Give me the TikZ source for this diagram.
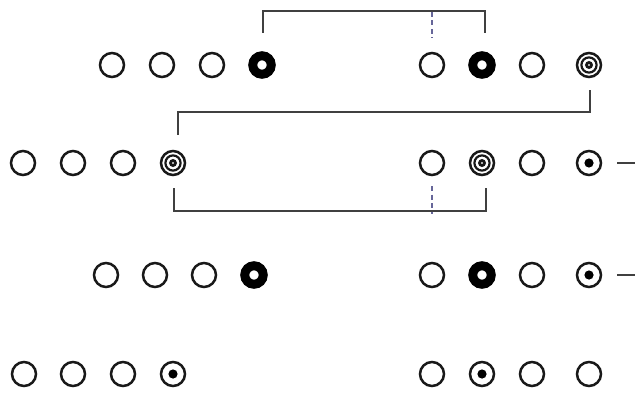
\documentclass[tikz,border=0pt]{standalone}
\usetikzlibrary{calc}
\begin{document}
\begin{tikzpicture}[x=1pt,y=1pt,
  ec/.style={circle,draw=black!90,line width=2.5pt,minimum size=24pt,inner sep=0pt},
  thk/.style={circle,draw=black,line width=9pt,minimum size=18.5pt,inner sep=0pt},
  tri/.style={ec,path picture={
      \draw[black!90,line width=2.2pt] (path picture bounding box.center) circle (7.6pt);
      \draw[black!90,line width=2.8pt] (path picture bounding box.center) circle (2.5pt);}},
  dotc/.style={ec,path picture={
      \fill[black] (path picture bounding box.center) circle (4.6pt);}},
  br/.style={draw=black!75,line width=1.9pt},
  dsh/.style={draw=gray!80!blue,line width=1.1pt,dash pattern=on 5pt off 3.5pt}]
\useasboundingbox (0,0) rectangle (635,392);
% row 1
\node[ec]  (r1l1) at (112,327) {};
\node[ec]  (r1l2) at (162,327) {};
\node[ec]  (r1l3) at (212,327) {};
\node[thk] (r1l4) at (262,327) {};
\node[ec]  (r1r1) at (432,327) {};
\node[thk] (r1r2) at (482,327) {};
\node[ec]  (r1r3) at (532,327) {};
\node[tri] (r1r4) at (589,327) {};
% row 2
\node[ec]  (r2l1) at (23,229) {};
\node[ec]  (r2l2) at (73,229) {};
\node[ec]  (r2l3) at (123,229) {};
\node[tri] (r2l4) at (173,229) {};
\node[ec]  (r2r1) at (432,229) {};
\node[tri] (r2r2) at (482,229) {};
\node[ec]  (r2r3) at (532,229) {};
\node[dotc] (r2r4) at (589,229) {};
% row 3
\node[ec]  (r3l1) at (106,117) {};
\node[ec]  (r3l2) at (155,117) {};
\node[ec]  (r3l3) at (204,117) {};
\node[thk] (r3l4) at (254,117) {};
\node[ec]  (r3r1) at (432,117) {};
\node[thk] (r3r2) at (482,117) {};
\node[ec]  (r3r3) at (532,117) {};
\node[dotc] (r3r4) at (589,117) {};
% row 4
\node[ec]  (r4l1) at (24,18) {};
\node[ec]  (r4l2) at (73,18) {};
\node[ec]  (r4l3) at (123,18) {};
\node[dotc] (r4l4) at (173,18) {};
\node[ec]  (r4r1) at (432,18) {};
\node[dotc] (r4r2) at (482,18) {};
\node[ec]  (r4r3) at (532,18) {};
\node[ec]  (r4r4) at (589,18) {};
% free ends
\coordinate (e2) at (635,229);
\coordinate (e3) at (635,117);
% brackets
\draw[br] ($(r1l4)+(1,32)$) -- ($(r1l4)+(1,54)$) -| ($(r1r2)+(3,32)$);
\draw[dsh] ($(r1r1)+(0,53)$) -- ($(r1r1)+(0,27)$);
\draw[br] ($(r1r4)+(1,-25)$) -- ($(r1r4)+(1,-47)$) -| ($(r2l4)+(5,28)$);
\draw[br] ($(r2l4)+(1,-25)$) -- ($(r2l4)+(1,-48)$) -| ($(r2r2)+(4,-25)$);
\draw[dsh] ($(r2r1)+(0,-23)$) -- ($(r2r1)+(0,-51)$);
\draw[br] ($(r2r4)+(28,0)$) -- (e2);
\draw[br] ($(r3r4)+(28,0)$) -- (e3);
\end{tikzpicture}
\end{document}
